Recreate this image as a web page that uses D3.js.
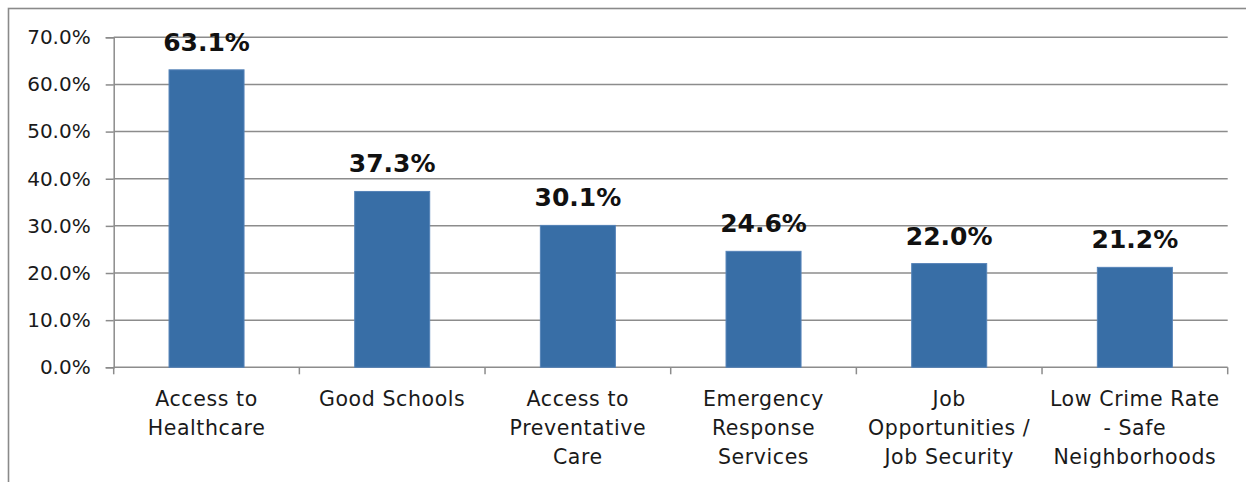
<!DOCTYPE html>
<html>
<head>
<meta charset="utf-8">
<script src="https://cdn.jsdelivr.net/npm/d3@7"></script>
<style>
  html, body { margin: 0; padding: 0; background: #fff; }
  svg { display: block; }
</style>
</head>
<body>
<svg id="chart" width="1246" height="482"></svg>
<script>
// Categories (line breaks mark where each label wraps)
const categories = [
  "Access to\nHealthcare",
  "Good Schools",
  "Access to\nPreventative\nCare",
  "Emergency\nResponse\nServices",
  "Job\nOpportunities /\nJob Security",
  "Low Crime Rate\n- Safe\nNeighborhoods"
];
const values = [0.631, 0.373, 0.301, 0.246, 0.220, 0.212];
const yTicks = [0, 0.1, 0.2, 0.3, 0.4, 0.5, 0.6, 0.7];

const svg = d3.select("#chart");
const plotLeft = 113.7, plotRight = 1227.7, plotTop = 37.3, plotBottom = 367.3;

// outer frame
svg.append("rect")
  .attr("x", 8.5).attr("y", 8.5)
  .attr("width", 1260).attr("height", 520)
  .attr("fill", "none").attr("stroke", "#8a8a8a").attr("stroke-width", 1.6);

const x = d3.scaleBand()
  .domain(categories)
  .range([plotLeft, plotRight])
  .paddingInner(0.596)
  .paddingOuter(0.298);

const y = d3.scaleLinear().domain([0, 0.7]).range([plotBottom, plotTop]);

const gridColor = "#8c8c8c";

// horizontal gridlines
svg.append("g")
  .selectAll("line")
  .data(yTicks.filter(d => d > 0))
  .join("line")
  .attr("x1", plotLeft).attr("x2", plotRight)
  .attr("y1", d => y(d)).attr("y2", d => y(d))
  .attr("stroke", gridColor).attr("stroke-width", 1.5);

// y axis
const yAxis = svg.append("g")
  .attr("transform", `translate(${plotLeft},0)`)
  .call(d3.axisLeft(y).tickValues(yTicks).tickFormat(d3.format(".1%")).tickSize(8).tickPadding(15));
yAxis.select(".domain").attr("stroke", gridColor).attr("stroke-width", 1.5);
yAxis.selectAll(".tick line").attr("stroke", gridColor).attr("stroke-width", 1.5);
yAxis.selectAll(".tick text")
  .attr("font-family", "DejaVu Sans")
  .attr("font-size", 20)
  .attr("fill", "#1a1a1a");

// x axis line with ticks at category boundaries
const half = (x.step() - x.bandwidth()) / 2;
const bounds = categories.map(c => x(c) - half).concat([plotRight]);
svg.append("line")
  .attr("x1", plotLeft).attr("x2", plotRight)
  .attr("y1", plotBottom).attr("y2", plotBottom)
  .attr("stroke", gridColor).attr("stroke-width", 1.5);
svg.append("g")
  .selectAll("line")
  .data(bounds)
  .join("line")
  .attr("x1", d => d).attr("x2", d => d)
  .attr("y1", plotBottom).attr("y2", plotBottom + 7)
  .attr("stroke", gridColor).attr("stroke-width", 1.5);

// bars
svg.append("g")
  .selectAll("rect")
  .data(values)
  .join("rect")
  .attr("x", (d, i) => x(categories[i]))
  .attr("y", d => y(d))
  .attr("width", x.bandwidth())
  .attr("height", d => plotBottom - y(d))
  .attr("fill", "#386ea6")
  .attr("stroke", "#5583b8")
  .attr("stroke-width", 1);

// value labels
svg.append("g")
  .selectAll("text")
  .data(values)
  .join("text")
  .attr("x", (d, i) => x(categories[i]) + x.bandwidth() / 2)
  .attr("y", d => y(d) - 19)
  .attr("text-anchor", "middle")
  .attr("font-family", "DejaVu Sans")
  .attr("font-weight", "bold")
  .attr("font-size", 25)
  .attr("fill", "#111")
  .text(d => d3.format(".1%")(d));

// category labels
const catG = svg.append("g")
  .attr("font-family", "DejaVu Sans")
  .attr("font-size", 20.5)
  .attr("letter-spacing", 0.6)
  .attr("fill", "#1a1a1a")
  .attr("text-anchor", "middle");
categories.forEach(c => {
  const cx = x(c) + x.bandwidth() / 2;
  c.split("\n").forEach((line, j) => {
    catG.append("text")
      .attr("x", cx)
      .attr("y", 406 + j * 29)
      .text(line);
  });
});
</script>
</body>
</html>
